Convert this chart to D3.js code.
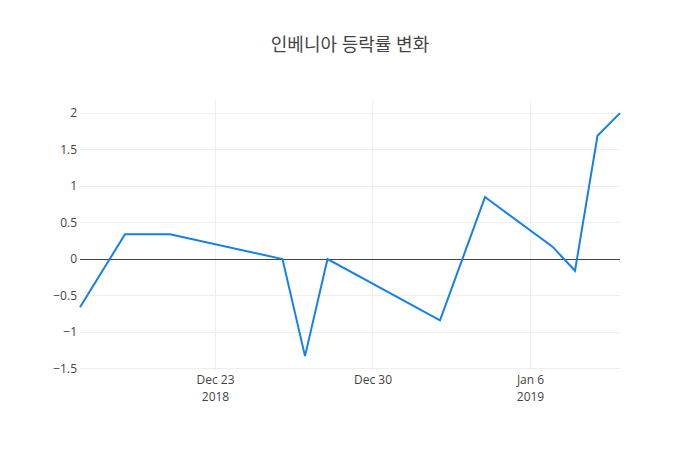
<!DOCTYPE html>
<html><head><meta charset="utf-8">
<script src="https://cdn.jsdelivr.net/npm/d3@7"></script>
<style>body{margin:0;background:#fff}svg{display:block}text{font-family:"Open Sans","Noto Sans CJK KR",sans-serif}</style>
</head><body><div id="chart"></div>
<script>
const dates = ["2018-12-17","2018-12-19","2018-12-21","2018-12-26","2018-12-27","2018-12-28","2019-01-02","2019-01-04","2019-01-07","2019-01-08","2019-01-09","2019-01-10"];
const values = [-0.66,0.34,0.34,0,-1.33,0,-0.84,0.85,0.17,-0.16,1.69,2.0];
const yTicks = [-1.5,-1,-0.5,0,0.5,1,1.5,2];
const xTicks = ["2018-12-23","2018-12-30","2019-01-06"];
const xTickLabels = [["Dec 23","2018"],["Dec 30",""],["Jan 6","2019"]];
const title = "인베니아 등락률 변화";

const W=700,H=450,m={l:80,r:80,t:100,b:80};
const parse=d3.utcParse("%Y-%m-%d");
const data=dates.map((d,i)=>({x:parse(d),y:values[i]}));
const svg=d3.select("#chart").append("svg").attr("width",W).attr("height",H);
const x=d3.scaleUtc().domain(d3.extent(data,d=>d.x)).range([m.l,W-m.r]);
const y=d3.scaleLinear().domain([-1.52,2.18]).range([H-m.b,m.t]);

const g=svg.append("g");
g.selectAll(".gy").data(yTicks).join("line").attr("x1",m.l).attr("x2",W-m.r)
 .attr("y1",d=>y(d)).attr("y2",d=>y(d)).attr("stroke","#eee").attr("stroke-width",1).attr("shape-rendering","crispEdges");
g.selectAll(".gx").data(xTicks).join("line").attr("y1",m.t).attr("y2",H-m.b)
 .attr("x1",d=>x(parse(d))).attr("x2",d=>x(parse(d))).attr("stroke","#eee").attr("stroke-width",1).attr("shape-rendering","crispEdges");
g.append("line").attr("x1",m.l).attr("x2",W-m.r).attr("y1",y(0)).attr("y2",y(0)).attr("stroke","#444").attr("stroke-width",1).attr("shape-rendering","crispEdges");

const yAxis=d3.axisLeft(y).tickValues(yTicks).tickSize(0).tickPadding(3).tickFormat(d=>d<0?"\u2212"+Math.abs(d):String(d));
const ya=svg.append("g").attr("transform",`translate(${m.l},0)`).call(yAxis);
ya.select(".domain").remove();
ya.selectAll("text").attr("font-size",12).attr("fill","#444").style("font-family",'"Open Sans",sans-serif');

const xAxis=d3.axisBottom(x).tickValues(xTicks.map(parse)).tickSize(0).tickPadding(0).tickFormat(()=>"");
const xa=svg.append("g").attr("transform",`translate(0,${H-m.b})`).call(xAxis);
xa.select(".domain").remove();
xa.selectAll(".tick").each(function(d,i){
  const t=d3.select(this).select("text").attr("dy",null).attr("y",0).attr("fill","#444").attr("font-size",12);
  t.append("tspan").attr("x",0).attr("y",13.5).text(xTickLabels[i][0]);
  t.append("tspan").attr("x",0).attr("y",30.5).text(xTickLabels[i][1]);
});

const line=d3.line().x(d=>x(d.x)).y(d=>y(d.y));
svg.append("path").datum(data).attr("d",line).attr("fill","none").attr("stroke","#1780e8").attr("stroke-width",2).attr("stroke-linejoin","miter");

svg.append("text").attr("x",W/2).attr("y",51).attr("text-anchor","middle").attr("font-size",18).attr("fill","#444").text(title);
</script></body></html>
